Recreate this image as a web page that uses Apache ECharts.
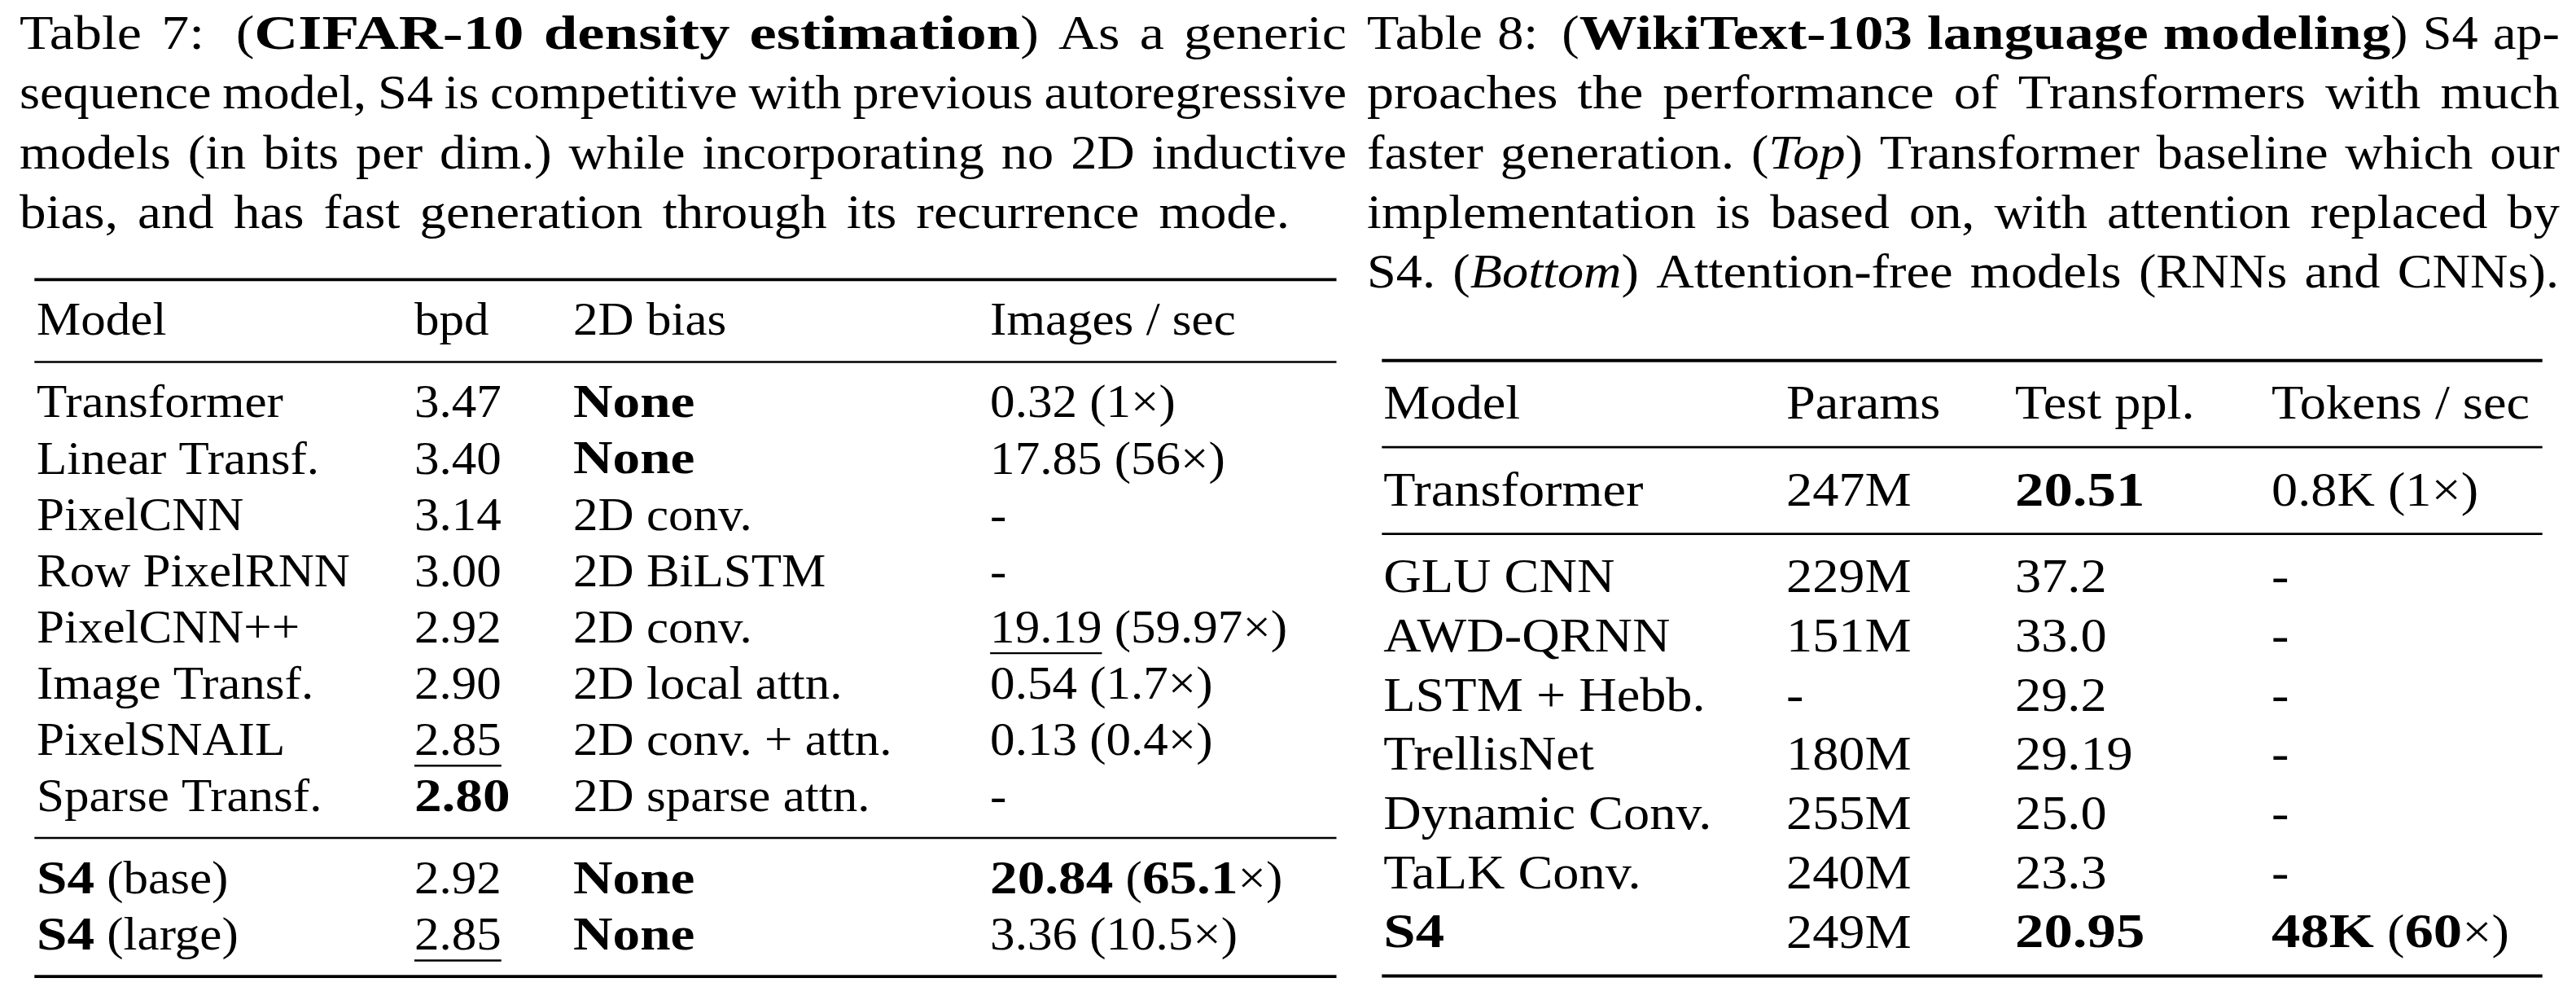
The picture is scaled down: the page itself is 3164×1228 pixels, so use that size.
<!DOCTYPE html>
<html><head><meta charset="utf-8">
<script src="https://cdn.jsdelivr.net/npm/echarts@6/dist/echarts.min.js"></script>
<style>html,body{margin:0;padding:0;background:#fff}#chart{width:3164px;height:1228px}</style>
</head><body><div id="chart"></div>
<script>
// ---------------- DATA ----------------
const cap7Lines = [
  'Table 7:  (**CIFAR-10 density estimation**) As a generic',
  'sequence model, S4 is competitive with previous autoregressive',
  'models (in bits per dim.) while incorporating no 2D inductive',
  'bias, and has fast generation through its recurrence mode.'
];
const cap8Lines = [
  'Table 8:  (**WikiText-103 language modeling**) S4 ap-',
  'proaches the performance of Transformers with much',
  'faster generation. (*Top*) Transformer baseline which our',
  'implementation is based on, with attention replaced by',
  'S4. (*Bottom*) Attention-free models (RNNs and CNNs).'
];

const t7Columns = ['Model', 'bpd', '2D bias', 'Images / sec'];
const t7Models = ['Transformer', 'Linear Transf.', 'PixelCNN', 'Row PixelRNN', 'PixelCNN++',
  'Image Transf.', 'PixelSNAIL', 'Sparse Transf.', '**S4** (base)', '**S4** (large)'];
const t7Bpd = ['3.47', '3.40', '3.14', '3.00', '2.92', '2.90', '__2.85__', '**2.80**', '2.92', '__2.85__'];
const t7Bias = ['**None**', '**None**', '2D conv.', '2D BiLSTM', '2D conv.', '2D local attn.',
  '2D conv. + attn.', '2D sparse attn.', '**None**', '**None**'];
const t7Speed = ['0.32 (1×)', '17.85 (56×)', '-', '-', '__19.19__ (59.97×)', '0.54 (1.7×)',
  '0.13 (0.4×)', '-', '**20.84** (**65.1**×)', '3.36 (10.5×)'];
const t7Sections = [8, 2];

const t8Columns = ['Model', 'Params', 'Test ppl.', 'Tokens / sec'];
const t8Models = ['Transformer', 'GLU CNN', 'AWD-QRNN', 'LSTM + Hebb.', 'TrellisNet',
  'Dynamic Conv.', 'TaLK Conv.', '**S4**'];
const t8Params = ['247M', '229M', '151M', '-', '180M', '255M', '240M', '249M'];
const t8Ppl = ['**20.51**', '37.2', '33.0', '29.2', '29.19', '25.0', '23.3', '**20.95**'];
const t8Speed = ['0.8K (1×)', '-', '-', '-', '-', '-', '-', '**48K** (**60**×)'];
const t8Sections = [1, 7];

// ---------------- LAYOUT / STYLE ----------------
const FAMILY = '"Liberation Serif", "Times New Roman", serif';
const REG_STRETCH = 1.09, BOLD_STRETCH = 1.2;
const SEP_ABOVE = 0.48, SEP_BELOW = 0.985;
const CAP = { size: 59, firstBaseline: 60, lineGap: 73.3 };
const CAP7 = { left: 24, rights: [1654, 1654, 1654, 1584] };
const CAP8 = { left: 1679, rights: [3144, 3144, 3144, 3144, 3143] };
const T7 = { left: 42.3, right: 1641.5, top: 343.3, pitch: 69.05, size: 56,
  cols: [0.0017, 0.2918, 0.4138, 0.734], heavy: 3.8, light: 2.6 };
const T8 = { left: 1697.3, right: 3122.7, top: 442.7, pitch: 72.7, size: 59,
  cols: [0.0014, 0.3485, 0.5456, 0.7666], heavy: 4, light: 2.7 };

// ---------------- HELPERS ----------------
const mctx = document.createElement('canvas').getContext('2d');
function fontStr(st, size) {
  return (st.italic ? 'italic ' : '') + (st.bold ? 'bold ' : '') + size + 'px ' + FAMILY;
}
function measure(text, st, size) {
  mctx.font = fontStr(st, size);
  return mctx.measureText(text).width;
}
const bOffCache = {};
function baselineOffset(size) {
  if (bOffCache[size] == null) {
    mctx.font = fontStr({}, size);
    mctx.textBaseline = 'middle';
    bOffCache[size] = mctx.measureText('H').actualBoundingBoxDescent;
    mctx.textBaseline = 'alphabetic';
  }
  return bOffCache[size];
}
function parseRuns(s) {
  const out = [];
  s.split(/(\*\*[^*]+\*\*|__[^_]+__|\*[^*]+\*)/).forEach(p => {
    if (!p) return;
    if (p.startsWith('**')) out.push({ text: p.slice(2, -2), bold: true });
    else if (p.startsWith('__')) out.push({ text: p.slice(2, -2), underline: true });
    else if (p.startsWith('*')) out.push({ text: p.slice(1, -1), italic: true });
    else out.push({ text: p });
  });
  return out;
}
function stretchOf(st) { return st.bold ? BOLD_STRETCH : REG_STRETCH; }
function textEl(text, st, size, x, baseline, sx) {
  return {
    type: 'text', x: x, y: baseline - baselineOffset(size), scaleX: sx, silent: true,
    style: { text: text, font: fontStr(st, size), fill: '#000',
      align: 'left', verticalAlign: 'middle', textAlign: 'left', textVerticalAlign: 'middle' }
  };
}
function runsElements(runs, x, baseline, size, k) {
  const els = [];
  runs.forEach(r => {
    const sx = stretchOf(r) * (k || 1);
    const w = measure(r.text, r, size) * sx;
    els.push(textEl(r.text, r, size, x, baseline, sx));
    if (r.underline) {
      const uy = baseline + 0.24 * size;
      els.push({ type: 'line', silent: true,
        shape: { x1: x, y1: uy, x2: x + w, y2: uy },
        style: { stroke: '#000', lineWidth: 2.4 } });
    }
    x += w;
  });
  return els;
}
// Justified caption line (a double space gives a wider inter-word gap)
function captionLine(line, left, right, baseline, size) {
  const runs = parseRuns(line);
  const words = [], gapW = [];
  let cur = [];
  runs.forEach(r => {
    const parts = r.text.split(/( +)/);
    parts.forEach(p => {
      if (/^ +$/.test(p)) {
        if (cur.length) { words.push(cur); cur = []; gapW.push(p.length > 1 ? 1.6 : 1); }
      } else if (p) cur.push(Object.assign({}, r, { text: p }));
    });
  });
  if (cur.length) words.push(cur);
  gapW.length = words.length - 1;
  const wordW = words.map(w => w.reduce((s, r) => s + measure(r.text, r, size) * stretchOf(r), 0));
  const sumW = wordW.reduce((a, b) => a + b, 0);
  const sumG = gapW.reduce((a, b) => a + b, 0);
  const space = measure(' ', {}, size) * REG_STRETCH;
  const target = right - left;
  let k = 1, gap = (target - sumW) / sumG;
  if (gap < 0.75 * space) { gap = 0.75 * space; k = (target - sumG * gap) / sumW; }
  else if (gap > 1.5 * space) { gap = 1.5 * space; k = Math.min(1.1, (target - sumG * gap) / sumW); gap = (target - sumW * k) / sumG; }
  const els = [];
  let x = left;
  words.forEach((w, i) => {
    els.push(...runsElements(w, x, baseline, size, k));
    x += wordW[i] * k + (i < gapW.length ? gap * gapW[i] : 0);
  });
  return els;
}
function buildTable(columns, colArrays, sections) {
  const rows = [columns], rowY = [], rules = [];
  let y = 0;
  rules.push([0, y, 1]);
  y += SEP_BELOW; rowY.push(y);
  let k = 0;
  sections.forEach(n => {
    y += SEP_ABOVE; rules.push([0, y, 0]);
    for (let r = 0; r < n; r++) {
      y += (r === 0 ? SEP_BELOW : 1);
      rowY.push(y);
      rows.push(colArrays.map(a => a[k]));
      k++;
    }
  });
  y += SEP_ABOVE; rules.push([0, y, 1]);
  return { rows, rowY, rules, total: y };
}

const tab7 = buildTable(t7Columns, [t7Models, t7Bpd, t7Bias, t7Speed], t7Sections);
const tab8 = buildTable(t8Columns, [t8Models, t8Params, t8Ppl, t8Speed], t8Sections);

function cellSeries(tab, lay, gi) {
  return {
    type: 'custom', xAxisIndex: gi, yAxisIndex: gi, clip: false, silent: true,
    encode: { x: 0, y: 1 },
    data: tab.rowY.map(y => [0, y]),
    renderItem: function (params, api) {
      const i = params.dataIndex;
      const y = api.value(1);
      const children = [];
      tab.rows[i].forEach((cell, j) => {
        const pt = api.coord([lay.cols[j], y]);
        children.push(...runsElements(parseRuns(cell), pt[0], pt[1], lay.size, 1));
      });
      return { type: 'group', children: children };
    }
  };
}
function ruleSeries(tab, lay, gi) {
  return {
    type: 'custom', xAxisIndex: gi, yAxisIndex: gi, clip: false, silent: true,
    encode: { x: 0, y: 1 },
    data: tab.rules,
    renderItem: function (params, api) {
      const y = api.value(1);
      const p0 = api.coord([0, y]), p1 = api.coord([1, y]);
      return { type: 'line', shape: { x1: p0[0], y1: p0[1], x2: p1[0], y2: p1[1] },
        style: { stroke: '#000', lineWidth: api.value(2) ? lay.heavy : lay.light } };
    }
  };
}

const captionEls = [];
cap7Lines.forEach((l, i) => captionEls.push(...captionLine(l, CAP7.left, CAP7.rights[i], CAP.firstBaseline + i * CAP.lineGap, CAP.size)));
cap8Lines.forEach((l, i) => captionEls.push(...captionLine(l, CAP8.left, CAP8.rights[i], CAP.firstBaseline + i * CAP.lineGap, CAP.size)));

const chart = echarts.init(document.getElementById('chart'), null, { renderer: 'canvas' });
chart.setOption({
  animation: false,
  backgroundColor: '#ffffff',
  grid: [
    { left: T7.left, top: T7.top, width: T7.right - T7.left, height: tab7.total * T7.pitch },
    { left: T8.left, top: T8.top, width: T8.right - T8.left, height: tab8.total * T8.pitch }
  ],
  xAxis: [
    { gridIndex: 0, type: 'value', min: 0, max: 1, show: false },
    { gridIndex: 1, type: 'value', min: 0, max: 1, show: false }
  ],
  yAxis: [
    { gridIndex: 0, type: 'value', min: 0, max: tab7.total, inverse: true, show: false },
    { gridIndex: 1, type: 'value', min: 0, max: tab8.total, inverse: true, show: false }
  ],
  series: [
    ruleSeries(tab7, T7, 0), cellSeries(tab7, T7, 0),
    ruleSeries(tab8, T8, 1), cellSeries(tab8, T8, 1)
  ],
  graphic: { elements: captionEls }
});
</script></body></html>
